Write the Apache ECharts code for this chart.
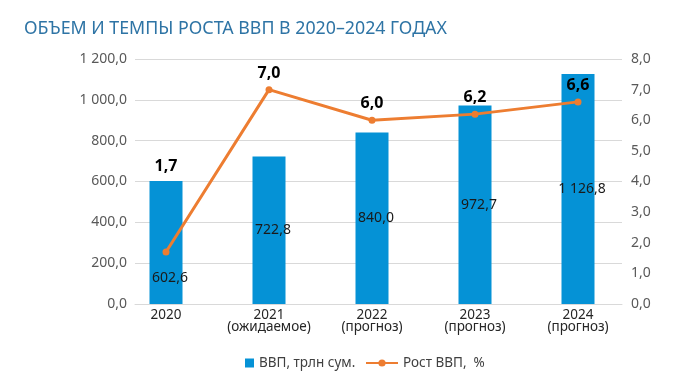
<!DOCTYPE html>
<html><head><meta charset="utf-8">
<script src="https://cdn.jsdelivr.net/npm/echarts@6/dist/echarts.min.js"></script>
<style>html,body{margin:0;padding:0;background:#fff}#c{width:680px;height:387px}</style>
</head><body><div id="c"></div>
<script>
var categories = ['2020', '2021\n(ожидаемое)', '2022\n(прогноз)', '2023\n(прогноз)', '2024\n(прогноз)'];
var gdp = [602.6, 722.8, 840.0, 972.7, 1126.8];
var growth = [1.7, 7.0, 6.0, 6.2, 6.6];
var leftTicks = [0, 1200, 200];
var rightTicks = [0, 8, 1];

function fmt(v, d) {
  var s = Number(v).toFixed(d).split('.');
  var ip = s[0].replace(/\B(?=(\d{3})+(?!\d))/g, ' ');
  return s.length > 1 ? ip + ',' + s[1] : ip;
}
var FONT = '"Noto Sans", sans-serif';
var chart = echarts.init(document.getElementById('c'), null, {renderer: 'canvas'});

var barData = gdp.map(function (v, i) {
  return i === 0 ? {value: v, label: {offset: [4, 36]}} : {value: v};
});
var lineData = growth.map(function (v, i) {
  return i === 0 ? {value: v, label: {offset: [0, -69]}} : {value: v};
});

chart.setOption({
  animation: false,
  title: {
    text: 'ОБЪЕМ И ТЕМПЫ РОСТА ВВП В 2020–2024 ГОДАХ',
    left: 19, top: 15,
    textStyle: {fontFamily: FONT, fontSize: 17.8, fontWeight: 'normal', color: '#2e74a5'}
  },
  legend: [
    {bottom: 12, left: 240, itemWidth: 9, itemHeight: 9, itemGap: 5,
     textStyle: {fontFamily: FONT, fontSize: 13.5, color: '#404040'},
     data: [{name: 'ВВП, трлн сум.', icon: 'rect', itemStyle: {color: '#0592d6'}}]},
    {bottom: 12, left: 360, itemWidth: 32, itemHeight: 9,
     textStyle: {fontFamily: FONT, fontSize: 13.5, color: '#404040'},
     data: [{name: 'Рост ВВП,  %'}]}
  ],
  grid: [
    {left: 135, right: 58, top: 59, bottom: 83},
    {left: 114.5, right: 50.5, top: 59, bottom: 83}
  ],
  xAxis: [
    {type: 'category', gridIndex: 0, data: categories, axisLine: {lineStyle: {color: '#d9d9d9'}},
     axisTick: {show: false}, axisLabel: {show: false}},
    {type: 'category', gridIndex: 1, data: categories, axisLine: {show: false}, axisTick: {show: false},
     axisLabel: {interval: 0, fontFamily: FONT, fontSize: 13.5, color: '#262626', margin: 5, lineHeight: 12}}
  ],
  yAxis: [
    {type: 'value', gridIndex: 0, min: leftTicks[0], max: leftTicks[1], interval: leftTicks[2],
     axisLine: {show: false}, axisTick: {show: false},
     splitLine: {lineStyle: {color: '#d9d9d9'}},
     axisLabel: {fontFamily: FONT, fontSize: 14, color: '#595959', margin: 8, formatter: function (v) { return fmt(v, 1); }}},
    {type: 'value', gridIndex: 0, position: 'right', min: rightTicks[0], max: rightTicks[1], interval: rightTicks[2],
     axisLine: {show: false}, axisTick: {show: false}, splitLine: {show: false},
     axisLabel: {fontFamily: FONT, fontSize: 14, color: '#595959', margin: 9, formatter: function (v) { return fmt(v, 1); }}},
    {type: 'value', gridIndex: 1, min: leftTicks[0], max: leftTicks[1], show: false},
    {type: 'value', gridIndex: 1, min: rightTicks[0], max: rightTicks[1], show: false}
  ],
  series: [
    {name: 'ВВП, трлн сум.', type: 'bar', xAxisIndex: 1, yAxisIndex: 2, data: barData,
     barWidth: 33, itemStyle: {color: '#0592d6'},
     label: {show: true, position: 'inside', offset: [4, 0], fontFamily: FONT, fontSize: 14, color: '#1a1a1a',
             formatter: function (p) { return fmt(p.value, 1); }}},
    {name: 'Рост ВВП,  %', type: 'line', xAxisIndex: 1, yAxisIndex: 3, data: lineData,
     symbol: 'circle', symbolSize: 7, lineStyle: {color: '#ed7d31', width: 3}, itemStyle: {color: '#ed7d31'},
     label: {show: true, position: 'top', distance: 5, fontFamily: FONT, fontSize: 16, fontWeight: 'bold', color: '#000',
             formatter: function (p) { return fmt(p.value, 1); }}}
  ]
});
</script></body></html>
